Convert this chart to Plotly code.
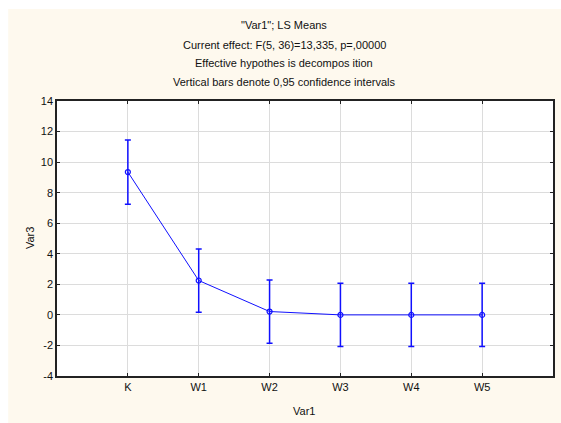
import plotly.graph_objects as go

categories = ["K", "W1", "W2", "W3", "W4", "W5"]
means = [9.35, 2.25, 0.22, 0.0, 0.0, 0.0]
ci_half = [2.1, 2.07, 2.07, 2.07, 2.07, 2.07]
y_ticks = [-4, -2, 0, 2, 4, 6, 8, 10, 12, 14]
y_tick_labels = ["-4", "-2", "0", "2", "4", "6", "8", "10", "12", "14"]

title_lines = [
    '"Var1"; LS Means',
    "Current effect: F(5, 36)=13,335, p=,00000",
    "Effective hypothes is decompos ition",
    "Vertical bars denote 0,95 confidence intervals",
]

W, H = 561, 423
L, R, T, B = 57, 6, 101, 47
pw, ph = W - L - R, H - T - B

def px_x(x):
    return (x - L) / pw

def px_y(y):
    return (H - B - y) / ph

cream = "#FEF9EE"
font = "Liberation Sans, Arial, sans-serif"
blue = "#1010FF"

fig = go.Figure()
fig.add_trace(go.Scatter(
    x=categories, y=means, mode="lines+markers",
    line=dict(color=blue, width=1),
    marker=dict(symbol="circle-open", size=5, color=blue, line=dict(width=1.2, color=blue)),
    error_y=dict(type="data", array=ci_half, visible=True, color=blue, thickness=1.5, width=3),
    showlegend=False,
))

shapes = [
    dict(type="rect", xref="paper", yref="paper", x0=px_x(8), x1=px_x(W + 5),
         y0=px_y(H + 5), y1=px_y(9), fillcolor=cream, line=dict(width=0), layer="below"),
    dict(type="rect", xref="paper", yref="paper", x0=0, x1=1, y0=0, y1=1,
         fillcolor="white", line=dict(width=0), layer="below"),
]

annotations = []
for t, yy in zip(title_lines, [25, 45, 63, 82]):
    annotations.append(dict(text=t, xref="paper", yref="paper", x=px_x(285), y=px_y(yy),
                            xanchor="center", yanchor="middle", showarrow=False,
                            font=dict(family=font, size=11, color="#111")))
annotations.append(dict(text="Var3", xref="paper", yref="paper", x=px_x(30), y=px_y(238),
                        xanchor="center", yanchor="middle", showarrow=False, textangle=-90,
                        font=dict(family=font, size=11, color="#111")))
annotations.append(dict(text="Var1", xref="paper", yref="paper", x=px_x(305), y=px_y(411),
                        xanchor="center", yanchor="middle", showarrow=False,
                        font=dict(family=font, size=11, color="#111")))

fig.update_layout(
    width=W, height=H,
    margin=dict(l=L, r=R, t=T, b=B, pad=0),
    paper_bgcolor="white", plot_bgcolor="rgba(0,0,0,0)",
    shapes=shapes, annotations=annotations,
    font=dict(family=font, size=11, color="#111"),
)
fig.update_xaxes(
    type="category", range=[-1, 6], categoryorder="array", categoryarray=categories,
    showgrid=True, gridcolor="#DCDCDC", gridwidth=1,
    showline=True, linecolor="#222", linewidth=1.5, mirror="ticks",
    ticks="inside", ticklen=3, tickcolor="#222", zeroline=False,
    tickfont=dict(family=font, size=11, color="#111"),
)
fig.update_yaxes(
    range=[-4, 14], tickvals=y_ticks, ticktext=y_tick_labels,
    showgrid=True, gridcolor="#DCDCDC", gridwidth=1,
    showline=True, linecolor="#222", linewidth=1.5, mirror="ticks",
    ticks="inside", ticklen=3, tickcolor="#222", zeroline=False,
    tickfont=dict(family=font, size=11, color="#111"),
)

fig.write_html("out.html")
